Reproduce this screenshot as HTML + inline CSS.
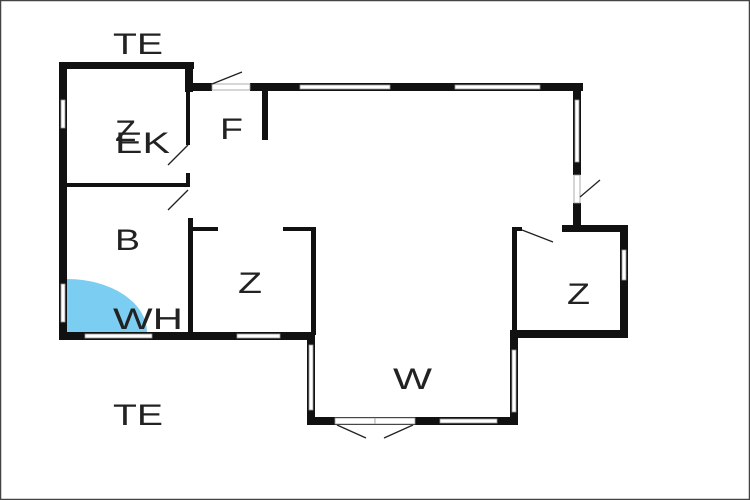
<!DOCTYPE html>
<html><head><style>
html,body{margin:0;padding:0;background:#fff}
svg{display:block}
text{font-family:"Liberation Sans",sans-serif;font-size:30px;fill:#222}
</style></head><body>
<svg width="750" height="500" viewBox="0 0 750 500">
<rect x="0.5" y="0.5" width="749" height="499" fill="#fff" stroke="#444" stroke-width="1.5"/>
<path d="M67 332 L67 279 A80 53 0 0 1 147 332 Z" fill="#7ccdf2"/>
<g fill="#111">
<rect x="59" y="62" width="8" height="278"/>
<rect x="59" y="62" width="135" height="7"/>
<rect x="185" y="62" width="8" height="30"/>
<rect x="186" y="92" width="4" height="53"/>
<rect x="67" y="183" width="123" height="4"/>
<rect x="186" y="173" width="4" height="14"/>
<rect x="188" y="218" width="5" height="117"/>
<rect x="188" y="227" width="30" height="4"/>
<rect x="283" y="227" width="33" height="4"/>
<rect x="311" y="227" width="5" height="108"/>
<rect x="59" y="332" width="256" height="8"/>
<rect x="185" y="83" width="27" height="8"/>
<rect x="250" y="83" width="333" height="8"/>
<rect x="262" y="83" width="6" height="57"/>
<rect x="573" y="83" width="8" height="92"/>
<rect x="573" y="203" width="8" height="29"/>
<rect x="562" y="225" width="66" height="7"/>
<rect x="620" y="225" width="8" height="113"/>
<rect x="512" y="330" width="116" height="8"/>
<rect x="512" y="227" width="5" height="111"/>
<rect x="512" y="227" width="10" height="4"/>
<rect x="307" y="333" width="8" height="92"/>
<rect x="510" y="330" width="8" height="95"/>
<rect x="307" y="417" width="211" height="8"/>
</g>
<g fill="#fff" stroke="#999" stroke-width="0.8">
<rect x="61" y="100" width="4" height="28"/>
<rect x="61" y="284" width="4" height="38"/>
<rect x="85" y="334" width="67" height="4"/>
<rect x="237" y="334" width="43" height="4"/>
<rect x="300" y="85" width="90" height="4"/>
<rect x="455" y="85" width="85" height="4"/>
<rect x="575" y="100" width="4" height="62"/>
<rect x="622" y="250" width="4" height="30"/>
<rect x="309" y="345" width="4" height="65"/>
<rect x="512" y="350" width="4" height="62"/>
<rect x="440" y="419" width="57" height="4"/>
<rect x="335" y="418" width="40" height="6"/>
<rect x="375" y="418" width="40" height="6"/>
<rect x="212" y="84" width="38" height="6"/>
<rect x="574" y="175" width="6" height="28"/>
</g>
<g stroke="#222" stroke-width="1.3" fill="none">
<line x1="212" y1="84" x2="242" y2="72"/>
<line x1="188" y1="145" x2="168" y2="165"/>
<line x1="188" y1="190" x2="168" y2="210"/>
<line x1="580" y1="197" x2="600" y2="180"/>
<line x1="522" y1="230" x2="553" y2="242"/>
<line x1="337" y1="425" x2="366" y2="438"/>
<line x1="413" y1="425" x2="384" y2="438"/>
</g>
<text x="113" y="54" textLength="50" lengthAdjust="spacingAndGlyphs">TE</text>
<text x="113" y="425" textLength="50" lengthAdjust="spacingAndGlyphs">TE</text>
<text x="115" y="141" textLength="21" lengthAdjust="spacingAndGlyphs">Z</text>
<text x="115" y="153" textLength="55" lengthAdjust="spacingAndGlyphs">EK</text>
<text x="220" y="139" textLength="23" lengthAdjust="spacingAndGlyphs">F</text>
<text x="115" y="250" textLength="25" lengthAdjust="spacingAndGlyphs">B</text>
<text x="238" y="293" textLength="24" lengthAdjust="spacingAndGlyphs">Z</text>
<text x="113" y="329" textLength="70" lengthAdjust="spacingAndGlyphs">WH</text>
<text x="393" y="389" textLength="39" lengthAdjust="spacingAndGlyphs">W</text>
<text x="567" y="304" textLength="23" lengthAdjust="spacingAndGlyphs">Z</text>
</svg>
</body></html>
